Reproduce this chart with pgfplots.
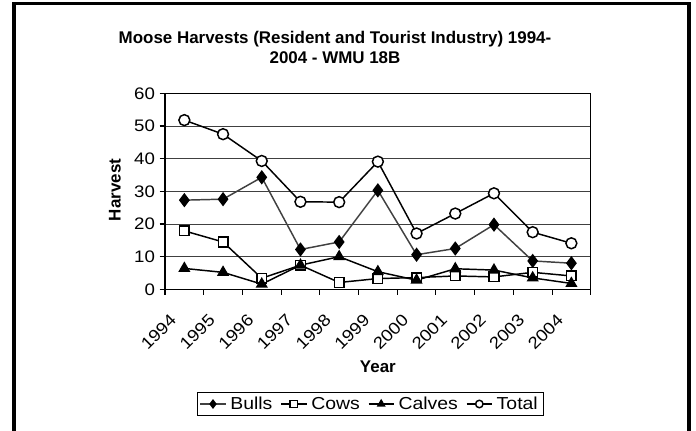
\documentclass[border=0pt]{standalone}
\usepackage{fontspec}
\setmainfont{Liberation Sans}
\newfontfamily\widefont{Liberation Sans}[FakeStretch=1.12]
\usepackage{pgfplots}
\pgfplotsset{compat=1.18}

\begin{document}
\begin{tikzpicture}[x=0.75pt,y=0.75pt]
\useasboundingbox (0,0) rectangle (696,430);
% chart frame
\draw[line width=2.6pt] (14,-10) -- (14,426.5) -- (689,426.5) -- (689,-10);
\node[align=center, font=\fontsize{12.7}{15}\selectfont\bfseries] at (335,383)
  {Moose Harvests (Resident and Tourist Industry) 1994-\\2004 - WMU 18B};

\begin{axis}[
  at={(123.75pt,105.5pt)}, anchor=south west,
  scale only axis, width=319.3pt, height=147pt,
  xmin=-0.5, xmax=10.5, ymin=0, ymax=60,
  xtick={0,...,10},
  xticklabels={1994,1995,1996,1997,1998,1999,2000,2001,2002,2003,2004},
  major x tick style={draw=none},
  minor xtick={-0.5,0.5,...,10.5},
  ytick={0,10,...,60},
  tick align=outside, xtick pos=bottom, ytick pos=left,
  major tick length=4pt, minor tick length=4pt,
  tick style={black, line width=0.8pt},
  ymajorgrids, grid style={black!75, line width=0.6pt},
  axis line style={black, line width=0.8pt},
  /pgf/number format/assume math mode=true,
  tick label style={font=\widefont\fontsize{12.5}{14}\selectfont},
  x tick label style={xshift=-11.5pt, yshift=-9pt, rotate=45, anchor=north east},
  xlabel={Year}, ylabel={Harvest},
  label style={font=\fontsize{12.7}{14}\selectfont\bfseries},
  xlabel style={at={(axis description cs:0.5,-0.396)}, anchor=center},
  ylabel style={at={(axis description cs:-0.1175,0.507)}, anchor=center},
  legend columns=-1,
  legend style={at={(axis description cs:0.4815,-0.585)}, anchor=center,
    draw=black, line width=0.6pt, font=\widefont\fontsize{13}{14}\selectfont,
    inner xsep=2pt, inner ysep=1pt,
    /tikz/every odd column/.append style={column sep=1pt},
    /tikz/every even column/.append style={column sep=4pt}},
  legend image code/.code={\draw[mark repeat=2, mark phase=2, mark size=2.8pt]
    plot coordinates {(0pt,0pt) (9.5pt,0pt) (19pt,0pt)};},
  every axis plot/.append style={line width=1.1pt, mark options={solid, line width=0.6pt}},
]
\addplot[color=black!75, mark=diamond*, mark size=4.5pt, mark options={fill=black, draw=black}]
coordinates {(0,27.3) (1,27.6) (2,34.3) (3,12.2) (4,14.5) (5,30.3) (6,10.6) (7,12.5) (8,19.8) (9,8.7) (10,8.0)};
\addlegendentry{Bulls}
\addplot[color=black, mark=square*, mark size=3.6pt, mark options={fill=white, draw=black}]
coordinates {(0,17.9) (1,14.5) (2,3.4) (3,7.4) (4,2.1) (5,3.3) (6,3.6) (7,4.1) (8,3.8) (9,5.2) (10,4.1)};
\addlegendentry{Cows}
\addplot[color=black, mark=triangle*, mark size=4.2pt, mark options={fill=black, draw=black}]
coordinates {(0,6.4) (1,5.2) (2,1.6) (3,7.4) (4,10.0) (5,5.4) (6,2.8) (7,6.3) (8,5.9) (9,3.5) (10,1.8)};
\addlegendentry{Calves}
\addplot[color=black, mark=*, mark size=4.1pt, mark options={fill=white, draw=black}]
coordinates {(0,51.8) (1,47.5) (2,39.3) (3,26.8) (4,26.7) (5,39.1) (6,17.1) (7,23.2) (8,29.4) (9,17.5) (10,14.1)};
\addlegendentry{Total}
\end{axis}
\end{tikzpicture}
\end{document}
